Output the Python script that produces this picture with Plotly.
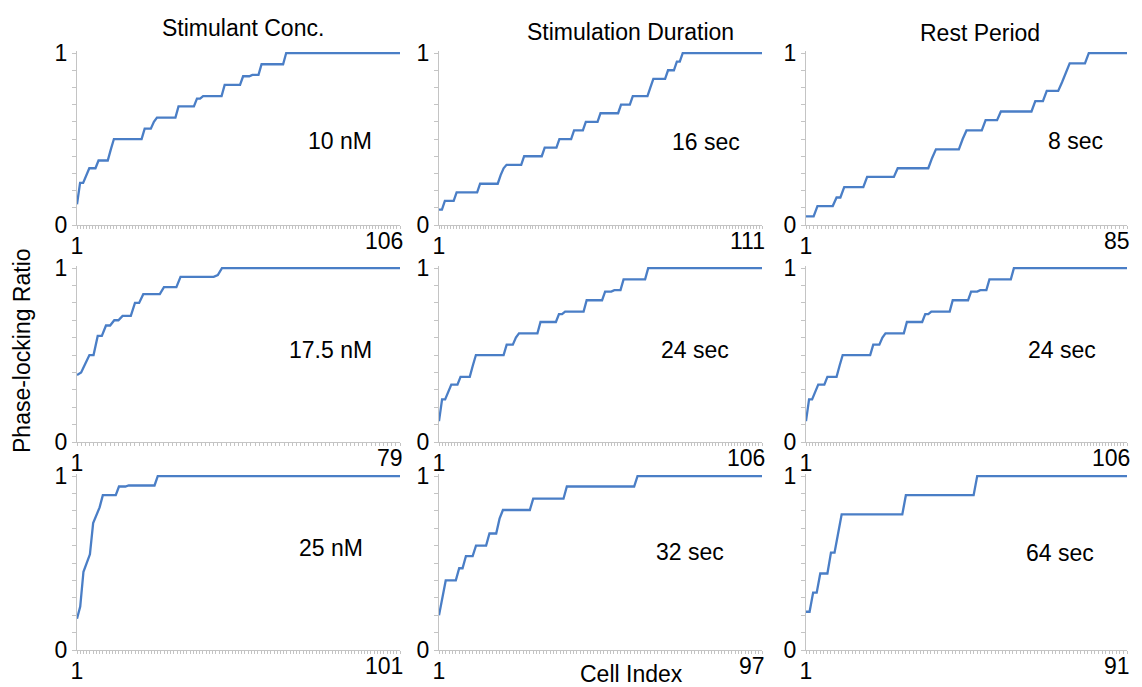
import plotly.graph_objects as go

# ---------------- data (run-length encoded: level of phase-locking ratio, number of cells at that level)
# 10 nM / 24 sec stimulation / 24 sec rest are the same baseline experiment
baseline_levels = [0.12, 0.245, 0.29, 0.33, 0.375, 0.44, 0.50, 0.56, 0.60, 0.625, 0.69, 0.735, 0.75, 0.815, 0.865, 0.873, 0.935, 1.0]
baseline_counts = [1, 2, 1, 3, 4, 1, 10, 3, 1, 7, 6, 2, 7, 6, 3, 3, 8, 38]

conc175_levels = [0.385, 0.40, 0.45, 0.50, 0.61, 0.67, 0.70, 0.725, 0.80, 0.85, 0.89, 0.95, 0.96, 1.0]
conc175_counts = [1, 1, 1, 2, 2, 2, 2, 3, 2, 5, 4, 9, 1, 44]

conc25_levels = [0.18, 0.25, 0.45, 0.50, 0.55, 0.73, 0.78, 0.82, 0.89, 0.94, 0.946, 1.0]
conc25_counts = [1, 1, 1, 1, 1, 1, 1, 1, 5, 3, 9, 76]

stim16_levels = [0.09, 0.14, 0.19, 0.24, 0.29, 0.33, 0.35, 0.40, 0.45, 0.50, 0.55, 0.60, 0.65, 0.70, 0.75, 0.80, 0.85, 0.90, 0.95, 1.0]
stim16_counts = [2, 4, 8, 7, 1, 1, 6, 7, 5, 5, 4, 5, 7, 4, 6, 1, 5, 3, 2, 28]

stim32_levels = [0.20, 0.30, 0.40, 0.47, 0.54, 0.60, 0.67, 0.755, 0.805, 0.87, 0.94, 1.0]
stim32_counts = [1, 1, 4, 2, 3, 4, 3, 1, 9, 10, 21, 38]

rest8_levels = [0.05, 0.11, 0.16, 0.22, 0.28, 0.33, 0.39, 0.44, 0.50, 0.55, 0.61, 0.66, 0.72, 0.78, 0.83, 0.88, 0.94, 1.0]
rest8_counts = [3, 5, 2, 6, 8, 9, 1, 7, 1, 5, 4, 9, 3, 4, 1, 1, 5, 11]

rest64_levels = [0.22, 0.33, 0.44, 0.56, 0.67, 0.78, 0.89, 1.0]
rest64_counts = [2, 2, 3, 2, 1, 18, 20, 43]

column_titles = ["Stimulant Conc.", "Stimulation Duration", "Rest Period"]
panel_labels = [["10 nM", "16 sec", "8 sec"],
                ["17.5 nM", "24 sec", "24 sec"],
                ["25 nM", "32 sec", "64 sec"]]
panel_data = [[(baseline_levels, baseline_counts), (stim16_levels, stim16_counts), (rest8_levels, rest8_counts)],
              [(conc175_levels, conc175_counts), (baseline_levels, baseline_counts), (baseline_levels, baseline_counts)],
              [(conc25_levels, conc25_counts), (stim32_levels, stim32_counts), (rest64_levels, rest64_counts)]]
y_title = "Phase-locking Ratio"
x_title = "Cell Index"

# ---------------- layout geometry
W, H = 1142, 687
col_px = [(77, 400), (439, 762), (806, 1127)]
row_px = [(51, 225), (266, 442), (474, 650)]
label_px = [[(340, 141), (706, 142), (1075, 141)],
            [(330, 350), (695, 350), (1062, 350)],
            [(331, 548), (690, 552), (1060, 553)]]
title_px = [(243, 28), (630, 32), (980, 33)]

FONT = "Liberation Sans, Arial, Helvetica, sans-serif"
LINE = "#4A7EC6"
AX = "#c4c4c4"

fig = go.Figure()
layout = dict(width=W, height=H, margin=dict(l=0, r=0, t=0, b=0, autoexpand=False),
              paper_bgcolor="white", plot_bgcolor="white", showlegend=False,
              font=dict(family=FONT, color="black"))
annotations = []

k = 0
for r in range(3):
    for c in range(3):
        k += 1
        levels, counts = panel_data[r][c]
        y = []
        for lv, n in zip(levels, counts):
            y.extend([lv] * n)
        x = list(range(1, len(y) + 1))
        N = len(y)
        xa = "x" if k == 1 else f"x{k}"
        ya = "y" if k == 1 else f"y{k}"
        fig.add_trace(go.Scatter(x=x, y=y, mode="lines", xaxis=xa, yaxis=ya,
                                 line=dict(color=LINE, width=2.3), hoverinfo="skip"))
        x0, x1 = col_px[c]
        y0, y1 = row_px[r]
        xkey = "xaxis" if k == 1 else f"xaxis{k}"
        ykey = "yaxis" if k == 1 else f"yaxis{k}"
        layout[xkey] = dict(domain=[x0 / W, x1 / W], anchor=ya, range=[1, N],
                            showgrid=False, zeroline=False, showline=True, linecolor=AX, linewidth=1,
                            tickmode="array", tickvals=[1, N], ticktext=["1", ""],
                            ticks="",
                            minor=dict(dtick=1, tick0=1, ticks="outside", ticklen=3, tickcolor=AX, tickwidth=1),
                            tickfont=dict(size=23, family=FONT, color="black"))
        layout[ykey] = dict(domain=[1 - y1 / H, 1 - y0 / H], anchor=xa, range=[0, 1.012],
                            showgrid=False, zeroline=False, showline=True, linecolor=AX, linewidth=1,
                            tickmode="array", tickvals=[0, 1], ticktext=["0", "1"],
                            ticks="outside", ticklen=4, tickcolor=AX,
                            minor=dict(dtick=0.1, tick0=0, ticks="outside", ticklen=4, tickcolor=AX, tickwidth=1),
                            tickfont=dict(size=23, family=FONT, color="black"))
        # last cell index label, right-aligned at the end of the axis
        annotations.append(dict(text=str(N), x=N, xref=xa, y=0, yref=f"{ya} domain",
                                showarrow=False, xanchor="right", yanchor="top", xshift=5, yshift=-1,
                                font=dict(size=23, family=FONT, color="black")))
        lx, ly = label_px[r][c]
        annotations.append(dict(text=panel_labels[r][c], x=lx / W, y=1 - ly / H, xref="paper", yref="paper",
                                showarrow=False, xanchor="center", yanchor="middle",
                                font=dict(size=23, family=FONT, color="black")))

for (tx, ty), t in zip(title_px, column_titles):
    annotations.append(dict(text=t, x=tx / W, y=1 - ty / H, xref="paper", yref="paper",
                            showarrow=False, xanchor="center", yanchor="middle",
                            font=dict(size=23, family=FONT, color="black")))

annotations.append(dict(text=y_title, x=22 / W, y=1 - 351 / H, xref="paper", yref="paper",
                        showarrow=False, textangle=-90, xanchor="center", yanchor="middle",
                        font=dict(size=23, family=FONT, color="black")))
annotations.append(dict(text=x_title, x=631 / W, y=1 - 674 / H, xref="paper", yref="paper",
                        showarrow=False, xanchor="center", yanchor="middle",
                        font=dict(size=23, family=FONT, color="black")))

layout["annotations"] = annotations
fig.update_layout(**layout)
fig.write_html("out.html")
